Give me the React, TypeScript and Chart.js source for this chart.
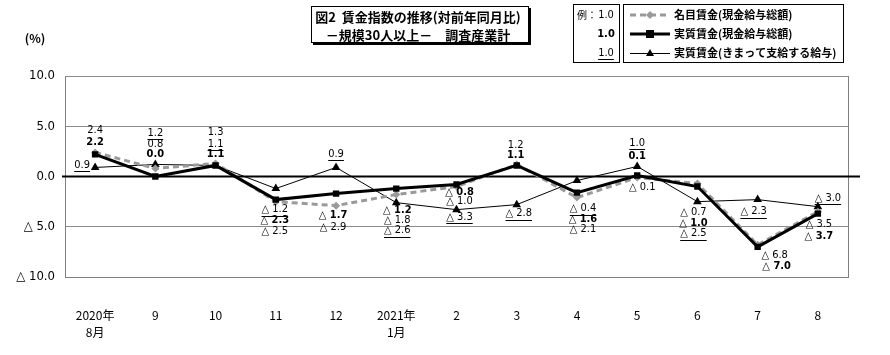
import React, { useEffect, useRef } from "react";
import { Chart, registerables } from "chart.js";
Chart.register(...registerables);

// ---- data ----
const months: (string | string[])[] = [["2020年", "8月"], "9", "10", "11", "12", ["2021年", "1月"], "2", "3", "4", "5", "6", "7", "8"];
const nominal = [2.4, 0.8, 1.3, -2.5, -2.9, -1.8, -1.0, 1.2, -2.1, -0.1, -0.7, -6.8, -3.5];
const realTotal = [2.2, 0.0, 1.1, -2.3, -1.7, -1.2, -0.8, 1.1, -1.6, 0.1, -1.0, -7.0, -3.7];
const realScheduled = [0.9, 1.2, 1.1, -1.2, 0.9, -2.6, -3.3, -2.8, -0.4, 1.0, -2.5, -2.3, -3.0];
const yTickValues = [10, 5, 0, -5, -10];
const seriesNames = ["名目賃金(現金給与総額)", "実質賃金(現金給与総額)", "実質賃金(きまって支給する給与)"];
const titleLines = ["図2  賃金指数の推移(対前年同月比)", "－規模30人以上－　調査産業計"];
const unitLabel = "(%)";

// label offsets (layout only): per month, [nominal, real, scheduled] -> [dx, dy]
const labelOffsets: number[][][] = [
  [[0, -22], [0, -12], [-13, -2]],
  [[0, -24], [0, -22], [0, -31]],
  [[0, -31], [0, -11], [0, -21]],
  [[-1, 30], [-1, 21], [-1, 21]],
  [[-3, 21], [-3, 22], [0, -13]],
  [[1, 26], [1, 22], [1, 28]],
  [[3, 15], [3, 8], [3, 7]],
  [[-1, -19], [-1, -10], [2, 9]],
  [[6, 32], [6, 27], [6, 28]],
  [[5, 10], [0, -19], [0, -23]],
  [[-4, 29], [-4, 37], [-4, 32]],
  [[17, 10], [19, 19], [-4, 12]],
  [[1, 12], [1, 22], [10, -9]],
];

const NUM_FONT = "'Liberation Sans Narrow', 'DejaVu Sans Condensed', sans-serif";
const JP_FONT = "'Noto Sans CJK JP', sans-serif";
const GREY = "#9a9a9a";

const fmt = (v: number) => (v < 0 ? "△ " + Math.abs(v).toFixed(1) : v.toFixed(1));

const decorPlugin = {
  id: "decor",
  beforeDatasetsDraw(chart: any) {
    const { ctx, chartArea } = chart;
    const y0 = chart.scales.y.getPixelForValue(0);
    ctx.save();
    // right border
    ctx.strokeStyle = "#808080";
    ctx.lineWidth = 1;
    ctx.beginPath();
    ctx.moveTo(Math.round(chartArea.right) + 0.5, chartArea.top);
    ctx.lineTo(Math.round(chartArea.right) + 0.5, chartArea.bottom);
    ctx.stroke();
    // zero line
    ctx.strokeStyle = "#000";
    ctx.lineWidth = 2;
    ctx.beginPath();
    ctx.moveTo(chartArea.left - 3, y0);
    ctx.lineTo(chartArea.right + 12, y0);
    ctx.stroke();
    ctx.restore();
  },
  afterDraw(chart: any) {
    const { ctx } = chart;
    ctx.save();
    // data labels
    const series = [nominal, realTotal, realScheduled];
    ctx.textAlign = "center";
    ctx.textBaseline = "middle";
    for (let s = 0; s < 3; s++) {
      const meta = chart.getDatasetMeta(s);
      series[s].forEach((v, i) => {
        const pt = meta.data[i];
        const off = labelOffsets[i][s];
        const x = pt.x + off[0];
        const y = pt.y + off[1];
        const txt = fmt(v);
        ctx.font = (s === 1 ? "bold " : "") + "11px " + NUM_FONT;
        ctx.fillStyle = "#000";
        ctx.fillText(txt, x, y);
        if (s === 2) {
          const w = ctx.measureText(txt).width;
          ctx.strokeStyle = "#000";
          ctx.lineWidth = 1;
          ctx.beginPath();
          ctx.moveTo(x - w / 2, Math.round(y + 6) + 0.5);
          ctx.lineTo(x + w / 2, Math.round(y + 6) + 0.5);
          ctx.stroke();
        }
      });
    }
    // unit
    ctx.font = "bold 12px " + JP_FONT;
    ctx.fillStyle = "#000";
    ctx.textAlign = "center";
    ctx.fillText(unitLabel, 35, 38);

    // title box
    ctx.strokeStyle = "#000";
    ctx.lineWidth = 1;
    ctx.strokeRect(311.5, 6.5, 217, 36);
    ctx.lineWidth = 2;
    ctx.beginPath();
    ctx.moveTo(530, 8);
    ctx.lineTo(530, 44);
    ctx.lineTo(313, 44);
    ctx.stroke();
    ctx.font = "bold 13px " + JP_FONT;
    ctx.textAlign = "center";
    ctx.fillText(titleLines[0], 418, 17);
    ctx.fillText(titleLines[1], 418, 35);

    // legend box 1 (example)
    ctx.lineWidth = 1;
    ctx.strokeRect(573.5, 4.5, 46, 58);
    ctx.textAlign = "left";
    ctx.font = "10px " + JP_FONT;
    ctx.fillText("例：", 577, 15);
    ctx.textAlign = "center";
    ctx.font = "11px " + NUM_FONT;
    ctx.fillText("1.0", 606, 15);
    ctx.font = "bold 11px " + NUM_FONT;
    ctx.fillText("1.0", 606, 34);
    ctx.font = "11px " + NUM_FONT;
    ctx.fillText("1.0", 606, 53);
    const w1 = ctx.measureText("1.0").width;
    ctx.beginPath();
    ctx.moveTo(606 - w1 / 2, 59.5);
    ctx.lineTo(606 + w1 / 2, 59.5);
    ctx.stroke();

    // legend box 2
    ctx.strokeRect(623.5, 4.5, 220, 58);
    const rows = [15, 34, 53];
    // nominal sample
    ctx.strokeStyle = GREY;
    ctx.lineWidth = 3;
    ctx.setLineDash([6, 4]);
    ctx.beginPath();
    ctx.moveTo(630, rows[0]);
    ctx.lineTo(670, rows[0]);
    ctx.stroke();
    ctx.setLineDash([]);
    ctx.fillStyle = GREY;
    ctx.beginPath();
    ctx.moveTo(650, rows[0] - 4);
    ctx.lineTo(654, rows[0]);
    ctx.lineTo(650, rows[0] + 4);
    ctx.lineTo(646, rows[0]);
    ctx.closePath();
    ctx.fill();
    // real sample
    ctx.strokeStyle = "#000";
    ctx.fillStyle = "#000";
    ctx.lineWidth = 3;
    ctx.beginPath();
    ctx.moveTo(630, rows[1]);
    ctx.lineTo(670, rows[1]);
    ctx.stroke();
    ctx.fillRect(646, rows[1] - 4, 8, 8);
    // scheduled sample
    ctx.lineWidth = 1;
    ctx.beginPath();
    ctx.moveTo(630, rows[2] + 0.5);
    ctx.lineTo(670, rows[2] + 0.5);
    ctx.stroke();
    ctx.beginPath();
    ctx.moveTo(650, rows[2] - 4);
    ctx.lineTo(654, rows[2] + 3);
    ctx.lineTo(646, rows[2] + 3);
    ctx.closePath();
    ctx.fill();
    ctx.textAlign = "left";
    ctx.font = "bold 11px " + JP_FONT;
    seriesNames.forEach((n, i) => ctx.fillText(n, 674, rows[i]));
    ctx.restore();
  },
};

export default function App() {
  const ref = useRef<HTMLCanvasElement | null>(null);
  useEffect(() => {
    if (!ref.current) return;
    const chart = new Chart(ref.current, {
      type: "line",
      data: {
        labels: months as any,
        datasets: [
          {
            label: seriesNames[0],
            data: nominal,
            borderColor: GREY,
            backgroundColor: GREY,
            borderWidth: 3,
            borderDash: [6, 4],
            pointStyle: "rectRot",
            pointRadius: 4,
            pointBorderWidth: 0,
            order: 1,
          },
          {
            label: seriesNames[1],
            data: realTotal,
            borderColor: "#000",
            backgroundColor: "#000",
            borderWidth: 3,
            pointStyle: "rect",
            pointRadius: 4.5,
            pointBorderWidth: 0,
            order: 0,
          },
          {
            label: seriesNames[2],
            data: realScheduled,
            borderColor: "#000",
            backgroundColor: "#000",
            borderWidth: 1,
            pointStyle: "triangle",
            pointRadius: 5,
            pointBorderWidth: 0,
            order: 2,
          },
        ],
      },
      options: {
        responsive: false,
        animation: false,
        devicePixelRatio: 1,
        layout: { padding: { left: 0, top: 76, right: 42, bottom: 0 } },
        plugins: { legend: { display: false }, tooltip: { enabled: false } },
        scales: {
          x: {
            offset: true,
            grid: { display: false, drawTicks: false },
            border: { display: true, color: "#808080", width: 1 },
            ticks: {
              padding: 30,
              maxRotation: 0,
              autoSkip: false,
              color: "#000",
              font: { family: JP_FONT, size: 12, lineHeight: "17px" } as any,
            },
            afterFit: (s: any) => {
              s.height = 78;
            },
          },
          y: {
            min: -10,
            max: 10,
            afterBuildTicks: (s: any) => {
              s.ticks = yTickValues.map((v) => ({ value: v }));
            },
            grid: {
              drawTicks: false,
              color: (c: any) => (c.tick && c.tick.value === 0 ? "rgba(0,0,0,0)" : "#8c8c8c"),
              lineWidth: 1,
            },
            border: { display: true, color: "#808080", width: 1 },
            ticks: {
              padding: 10,
              color: "#000",
              font: { family: NUM_FONT, size: 13 },
              callback: (v: any) => fmt(Number(v)),
            },
            afterFit: (s: any) => {
              s.width = 65;
            },
          },
        },
      },
      plugins: [decorPlugin],
    });
    return () => chart.destroy();
  }, []);
  return (
    <div style={{ position: "absolute", left: 0, top: 0, width: 890, height: 355, background: "#fff" }}>
      <canvas ref={ref} width={890} height={355} style={{ width: 890, height: 355, display: "block" }} />
    </div>
  );
}
